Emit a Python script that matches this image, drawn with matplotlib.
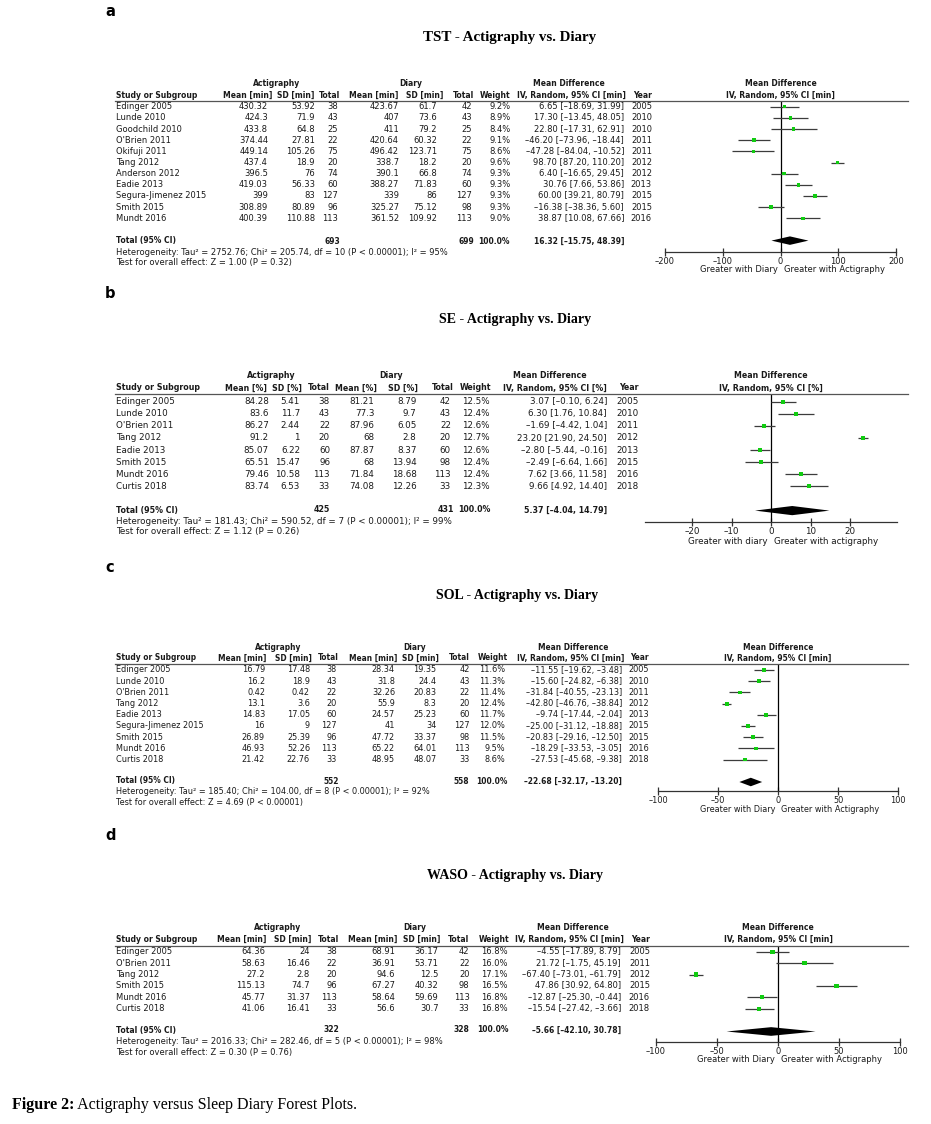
import numpy as np
import matplotlib
matplotlib.use("Agg")
import matplotlib.pyplot as plt
from matplotlib.lines import Line2D

# ---------------- DATA ----------------
# Panel a: TST
TST_STUDY = ["Edinger 2005", "Lunde 2010", "Goodchild 2010", "O'Brien 2011", "Okifuji 2011",
             "Tang 2012", "Anderson 2012", "Eadie 2013", "Segura-Jimenez 2015", "Smith 2015", "Mundt 2016"]
TST_ACT_MEAN = [430.32, 424.3, 433.8, 374.44, 449.14, 437.4, 396.5, 419.03, 399, 308.89, 400.39]
TST_ACT_SD = [53.92, 71.9, 64.8, 27.81, 105.26, 18.9, 76, 56.33, 83, 80.89, 110.88]
TST_ACT_N = [38, 43, 25, 22, 75, 20, 74, 60, 127, 96, 113]
TST_DIA_MEAN = [423.67, 407, 411, 420.64, 496.42, 338.7, 390.1, 388.27, 339, 325.27, 361.52]
TST_DIA_SD = [61.7, 73.6, 79.2, 60.32, 123.71, 18.2, 66.8, 71.83, 86, 75.12, 109.92]
TST_DIA_N = [42, 43, 25, 22, 75, 20, 74, 60, 127, 98, 113]
TST_WEIGHT = [9.2, 8.9, 8.4, 9.1, 8.6, 9.6, 9.3, 9.3, 9.3, 9.3, 9.0]
TST_MD = [6.65, 17.30, 22.80, -46.20, -47.28, 98.70, 6.40, 30.76, 60.00, -16.38, 38.87]
TST_LO = [-18.69, -13.45, -17.31, -73.96, -84.04, 87.20, -16.65, 7.66, 39.21, -38.36, 10.08]
TST_HI = [31.99, 48.05, 62.91, -18.44, -10.52, 110.20, 29.45, 53.86, 80.79, 5.60, 67.66]
TST_YEAR = [2005, 2010, 2010, 2011, 2011, 2012, 2012, 2013, 2015, 2015, 2016]
TST_TOTAL = [693, 699, 16.32, -15.75, 48.39]          # act N, diary N, MD, lo, hi
TST_HET = [2752.76, 205.74, 10, "< 0.00001", 95, 1.00, "= 0.32"]  # tau2, chi2, df, P, I2, Z, P

# Panel b: SE
SE_STUDY = ["Edinger 2005", "Lunde 2010", "O'Brien 2011", "Tang 2012", "Eadie 2013",
            "Smith 2015", "Mundt 2016", "Curtis 2018"]
SE_ACT_MEAN = [84.28, 83.6, 86.27, 91.2, 85.07, 65.51, 79.46, 83.74]
SE_ACT_SD = [5.41, 11.7, 2.44, 1, 6.22, 15.47, 10.58, 6.53]
SE_ACT_N = [38, 43, 22, 20, 60, 96, 113, 33]
SE_DIA_MEAN = [81.21, 77.3, 87.96, 68, 87.87, 68, 71.84, 74.08]
SE_DIA_SD = [8.79, 9.7, 6.05, 2.8, 8.37, 13.94, 18.68, 12.26]
SE_DIA_N = [42, 43, 22, 20, 60, 98, 113, 33]
SE_WEIGHT = [12.5, 12.4, 12.6, 12.7, 12.6, 12.4, 12.4, 12.3]
SE_MD = [3.07, 6.30, -1.69, 23.20, -2.80, -2.49, 7.62, 9.66]
SE_LO = [-0.10, 1.76, -4.42, 21.90, -5.44, -6.64, 3.66, 4.92]
SE_HI = [6.24, 10.84, 1.04, 24.50, -0.16, 1.66, 11.58, 14.40]
SE_YEAR = [2005, 2010, 2011, 2012, 2013, 2015, 2016, 2018]
SE_TOTAL = [425, 431, 5.37, -4.04, 14.79]
SE_HET = [181.43, 590.52, 7, "< 0.00001", 99, 1.12, "= 0.26"]

# Panel c: SOL
SOL_STUDY = ["Edinger 2005", "Lunde 2010", "O'Brien 2011", "Tang 2012", "Eadie 2013",
             "Segura-Jimenez 2015", "Smith 2015", "Mundt 2016", "Curtis 2018"]
SOL_ACT_MEAN = [16.79, 16.2, 0.42, 13.1, 14.83, 16, 26.89, 46.93, 21.42]
SOL_ACT_SD = [17.48, 18.9, 0.42, 3.6, 17.05, 9, 25.39, 52.26, 22.76]
SOL_ACT_N = [38, 43, 22, 20, 60, 127, 96, 113, 33]
SOL_DIA_MEAN = [28.34, 31.8, 32.26, 55.9, 24.57, 41, 47.72, 65.22, 48.95]
SOL_DIA_SD = [19.35, 24.4, 20.83, 8.3, 25.23, 34, 33.37, 64.01, 48.07]
SOL_DIA_N = [42, 43, 22, 20, 60, 127, 98, 113, 33]
SOL_WEIGHT = [11.6, 11.3, 11.4, 12.4, 11.7, 12.0, 11.5, 9.5, 8.6]
SOL_MD = [-11.55, -15.60, -31.84, -42.80, -9.74, -25.00, -20.83, -18.29, -27.53]
SOL_LO = [-19.62, -24.82, -40.55, -46.76, -17.44, -31.12, -29.16, -33.53, -45.68]
SOL_HI = [-3.48, -6.38, -23.13, -38.84, -2.04, -18.88, -12.50, -3.05, -9.38]
SOL_YEAR = [2005, 2010, 2011, 2012, 2013, 2015, 2015, 2016, 2018]
SOL_TOTAL = [552, 558, -22.68, -32.17, -13.20]
SOL_HET = [185.40, 104.00, 8, "< 0.00001", 92, 4.69, "< 0.00001"]

# Panel d: WASO
WASO_STUDY = ["Edinger 2005", "O'Brien 2011", "Tang 2012", "Smith 2015", "Mundt 2016", "Curtis 2018"]
WASO_ACT_MEAN = [64.36, 58.63, 27.2, 115.13, 45.77, 41.06]
WASO_ACT_SD = [24, 16.46, 2.8, 74.7, 31.37, 16.41]
WASO_ACT_N = [38, 22, 20, 96, 113, 33]
WASO_DIA_MEAN = [68.91, 36.91, 94.6, 67.27, 58.64, 56.6]
WASO_DIA_SD = [36.17, 53.71, 12.5, 40.32, 59.69, 30.7]
WASO_DIA_N = [42, 22, 20, 98, 113, 33]
WASO_WEIGHT = [16.8, 16.0, 17.1, 16.5, 16.8, 16.8]
WASO_MD = [-4.55, 21.72, -67.40, 47.86, -12.87, -15.54]
WASO_LO = [-17.89, -1.75, -73.01, 30.92, -25.30, -27.42]
WASO_HI = [8.79, 45.19, -61.79, 64.80, -0.44, -3.66]
WASO_YEAR = [2005, 2011, 2012, 2015, 2016, 2018]
WASO_TOTAL = [322, 328, -5.66, -42.10, 30.78]
WASO_HET = [2016.33, 282.46, 5, "< 0.00001", 98, 0.30, "= 0.76"]

TITLES = ["TST - Actigraphy vs. Diary", "SE - Actigraphy vs. Diary",
          "SOL - Actigraphy vs. Diary", "WASO - Actigraphy vs. Diary"]
PANEL_LETTERS = ["a", "b", "c", "d"]
UNITS = ["min", "%", "min", "min"]
DIRECTION = [("Greater with Diary", "Greater with Actigraphy"),
             ("Greater with diary", "Greater with actigraphy"),
             ("Greater with Diary", "Greater with Actigraphy"),
             ("Greater with Diary", "Greater with Actigraphy")]
TICKS = [[-200, -100, 0, 100, 200], [-20, -10, 0, 10, 20],
         [-100, -50, 0, 50, 100], [-100, -50, 0, 50, 100]]
CAPTION_BOLD = "Figure 2:"
CAPTION_TEXT = " Actigraphy versus Sleep Diary Forest Plots."

# ---------------- LAYOUT (pixels) ----------------
W, H = 931, 1124
LAYOUT = [
    dict(label_y=11, title_y=38, title_x=510, title_fs=10.8, grp_y=84, hdr_y=95.5, line_y=101,
         row0=106.7, step=11.16, total_y=241, het_y=252, test_y=263, axis_y=252, gdy=17,
         zero=780.5, ppu=0.5775, bounds=(-200, 200), fs=6.0, fsb=5.5,
         cols=[268, 315, 338, 399, 437, 472, 511, 624, 652],
         hcols=[272, 314, 340, 398.5, 443, 474, 510, 626, 652], grp=[277, 411, 569]),
    dict(label_y=293, title_y=320, title_x=515, title_fs=10.0, grp_y=376, hdr_y=388, line_y=393.5,
         row0=401.7, step=12.1, total_y=510, het_y=521, test_y=532, axis_y=522, gdy=19,
         zero=771, ppu=3.95, bounds=(-32, 32), fs=6.3, fsb=5.65,
         cols=[269, 300, 330, 374.5, 416.5, 451, 490, 607, 638.5],
         hcols=[267, 302, 330, 377, 418, 454, 491, 607, 638.5], grp=[271.6, 390.6, 549.6]),
    dict(label_y=567, title_y=596, title_x=517, title_fs=10.0, grp_y=647, hdr_y=658, line_y=664,
         row0=670, step=11.2, total_y=781, het_y=792, test_y=803, axis_y=791, gdy=18,
         zero=778, ppu=1.2, bounds=(-100, 100), fs=5.9, fsb=5.45,
         cols=[265, 310, 337, 395, 436.5, 469.5, 505, 622, 649],
         hcols=[266.5, 311.5, 339, 397.5, 439, 469.5, 508, 624, 649], grp=[278, 414.5, 573]),
    dict(label_y=836, title_y=876, title_x=515, title_fs=10.0, grp_y=928, hdr_y=939, line_y=946,
         row0=951.7, step=11.4, total_y=1030, het_y=1041, test_y=1052, axis_y=1042, gdy=17,
         zero=778, ppu=1.22, bounds=(-100, 100), fs=6.0, fsb=5.5,
         cols=[265, 310, 337, 395, 438.5, 469.5, 508, 621, 650],
         hcols=[266.5, 311.5, 339, 397.5, 440, 469.5, 509, 624, 650], grp=[278, 414.5, 573]),
]
STUDY_X = 116
LINE_RIGHT = 908
TXT = "#1a1a1a"
SANS = ["DejaVu Sans"]
SERIF = ["Liberation Serif", "DejaVu Serif"]
NEG = "\u2013"

fig = plt.figure(figsize=(W / 100, H / 100), dpi=100)
fig.patch.set_facecolor("white")


def fx(x):
    return x / W


def fy(y):
    return 1 - y / H


def T(x, y, s, ha="left", fs=5.4, bold=False, family=SANS, color=TXT):
    return fig.text(fx(x), fy(y), s, ha=ha, va="center", fontsize=fs,
                    fontweight="bold" if bold else "normal", family=family, color=color)


def num(v):
    return f"{v:g}".replace("-", NEG)


def ci(md, lo, hi):
    def f(v):
        return f"{v:.2f}".replace("-", NEG)
    return f"{f(md)} [{f(lo)}, {f(hi)}]"


panels = [
    (TST_STUDY, TST_ACT_MEAN, TST_ACT_SD, TST_ACT_N, TST_DIA_MEAN, TST_DIA_SD, TST_DIA_N,
     TST_WEIGHT, TST_MD, TST_LO, TST_HI, TST_YEAR, TST_TOTAL, TST_HET),
    (SE_STUDY, SE_ACT_MEAN, SE_ACT_SD, SE_ACT_N, SE_DIA_MEAN, SE_DIA_SD, SE_DIA_N,
     SE_WEIGHT, SE_MD, SE_LO, SE_HI, SE_YEAR, SE_TOTAL, SE_HET),
    (SOL_STUDY, SOL_ACT_MEAN, SOL_ACT_SD, SOL_ACT_N, SOL_DIA_MEAN, SOL_DIA_SD, SOL_DIA_N,
     SOL_WEIGHT, SOL_MD, SOL_LO, SOL_HI, SOL_YEAR, SOL_TOTAL, SOL_HET),
    (WASO_STUDY, WASO_ACT_MEAN, WASO_ACT_SD, WASO_ACT_N, WASO_DIA_MEAN, WASO_DIA_SD, WASO_DIA_N,
     WASO_WEIGHT, WASO_MD, WASO_LO, WASO_HI, WASO_YEAR, WASO_TOTAL, WASO_HET),
]

for p, (study, am, asd, an, dm, dsd, dn, wt, md, lo, hi, yr, tot, het) in enumerate(panels):
    L = LAYOUT[p]
    fs = L["fs"]
    fsb = L["fsb"]
    u = UNITS[p]
    c = L["cols"]
    hc = L["hcols"]
    n = len(study)

    # panel letter and title
    T(105, L["label_y"], PANEL_LETTERS[p], fs=10.5, bold=True, color="black")
    T(L["title_x"], L["title_y"], TITLES[p], ha="center", fs=L["title_fs"], bold=True,
      family=SERIF, color="black")

    # group headers
    T(L["grp"][0], L["grp_y"], "Actigraphy", ha="center", fs=fsb, bold=True)
    T(L["grp"][1], L["grp_y"], "Diary", ha="center", fs=fsb, bold=True)
    T(L["grp"][2], L["grp_y"], "Mean Difference", ha="center", fs=fsb, bold=True)
    T(L["zero"], L["grp_y"], "Mean Difference", ha="center", fs=fsb, bold=True)
    # column headers
    hdrs = [f"Mean [{u}]", f"SD [{u}]", "Total", f"Mean [{u}]", f"SD [{u}]", "Total",
            "Weight", f"IV, Random, 95% CI [{u}]", "Year"]
    T(STUDY_X, L["hdr_y"], "Study or Subgroup", fs=fsb, bold=True)
    for x, h in zip(hc, hdrs):
        T(x, L["hdr_y"], h, ha="right", fs=fsb, bold=True)
    T(L["zero"], L["hdr_y"], f"IV, Random, 95% CI [{u}]", ha="center", fs=fsb, bold=True)
    fig.add_artist(Line2D([fx(STUDY_X - 1), fx(LINE_RIGHT)], [fy(L["line_y"])] * 2,
                          color="#555555", lw=0.9))

    # rows
    for i in range(n):
        y = L["row0"] + i * L["step"]
        T(STUDY_X, y, study[i], fs=fs)
        vals = [num(am[i]), num(asd[i]), str(an[i]), num(dm[i]), num(dsd[i]), str(dn[i]),
                f"{wt[i]:.1f}%", ci(md[i], lo[i], hi[i]), str(yr[i])]
        for x, v in zip(c, vals):
            T(x, y, v, ha="right", fs=fs)

    # totals
    T(STUDY_X, L["total_y"], "Total (95% CI)", fs=fsb, bold=True)
    T(hc[2], L["total_y"], str(tot[0]), ha="right", fs=fsb, bold=True)
    T(hc[5], L["total_y"], str(tot[1]), ha="right", fs=fsb, bold=True)
    T(hc[6], L["total_y"], "100.0%", ha="right", fs=fsb, bold=True)
    T(c[7], L["total_y"], ci(tot[2], tot[3], tot[4]), ha="right", fs=fsb, bold=True)
    tau2, chi2, df, pchi, i2, z, pz = het
    T(STUDY_X, L["het_y"],
      f"Heterogeneity: Tau\u00b2 = {tau2:.2f}; Chi\u00b2 = {chi2:.2f}, df = {df} (P {pchi}); I\u00b2 = {i2}%",
      fs=fs)
    T(STUDY_X, L["test_y"], f"Test for overall effect: Z = {z:.2f} (P {pz})", fs=fs)

    # forest axes
    xl, xr = 640, 912
    yt, yb = L["line_y"], L["axis_y"]
    ax = fig.add_axes([fx(xl), fy(yb), (xr - xl) / W, (yb - yt) / H])
    ax.set_xlim((xl - L["zero"]) / L["ppu"], (xr - L["zero"]) / L["ppu"])
    ax.set_ylim((yb - L["row0"]) / L["step"], (yt - L["row0"]) / L["step"])
    ax.patch.set_alpha(0)
    for s in ["top", "left", "right"]:
        ax.spines[s].set_visible(False)
    ax.spines["bottom"].set_bounds(*L["bounds"])
    ax.spines["bottom"].set_linewidth(0.9)
    ax.spines["bottom"].set_color("#333333")
    ax.set_yticks([])
    ax.set_xticks(TICKS[p])
    ax.set_xticklabels([str(t).replace("-", NEG) for t in TICKS[p]])
    ax.tick_params(axis="x", direction="inout", length=6, width=0.9, color="#333333",
                   labelsize=fs, pad=0.5, labelcolor=TXT)
    for lab in ax.get_xticklabels():
        lab.set_family(SANS)
    ax.axvline(0, color="black", lw=0.9)

    rows = np.arange(n)
    ax.hlines(rows, lo, hi, color="#3c3c3c", lw=0.9)
    ax.scatter(md, rows, marker="s", s=2 + np.array(wt) * 0.45, color="#11cc11", zorder=3,
               linewidths=0)
    yd = n + 1
    dh = 0.38
    ax.fill([tot[3], tot[2], tot[4], tot[2]], [yd, yd - dh, yd, yd + dh],
            color="black", lw=0)

    left, right = DIRECTION[p]
    ax.annotate(left, xy=(0, 0), xycoords=("data", "axes fraction"),
                xytext=(-2.2, -L["gdy"] * 0.72), textcoords="offset points",
                ha="right", va="center", fontsize=fs, color=TXT, family=SANS)
    ax.annotate(right, xy=(0, 0), xycoords=("data", "axes fraction"),
                xytext=(2.2, -L["gdy"] * 0.72), textcoords="offset points",
                ha="left", va="center", fontsize=fs, color=TXT, family=SANS)

# caption
fig.canvas.draw()
cap1 = fig.text(fx(12), fy(1105), CAPTION_BOLD, ha="left", va="center", fontsize=11.5,
                fontweight="bold", family=SERIF, color="black")
fig.canvas.draw()
bb = cap1.get_window_extent()
fig.text(bb.x1 / W, fy(1105), CAPTION_TEXT, ha="left", va="center", fontsize=11.5,
         family=SERIF, color="black")

fig.savefig("out.png", dpi=100, facecolor="white")
